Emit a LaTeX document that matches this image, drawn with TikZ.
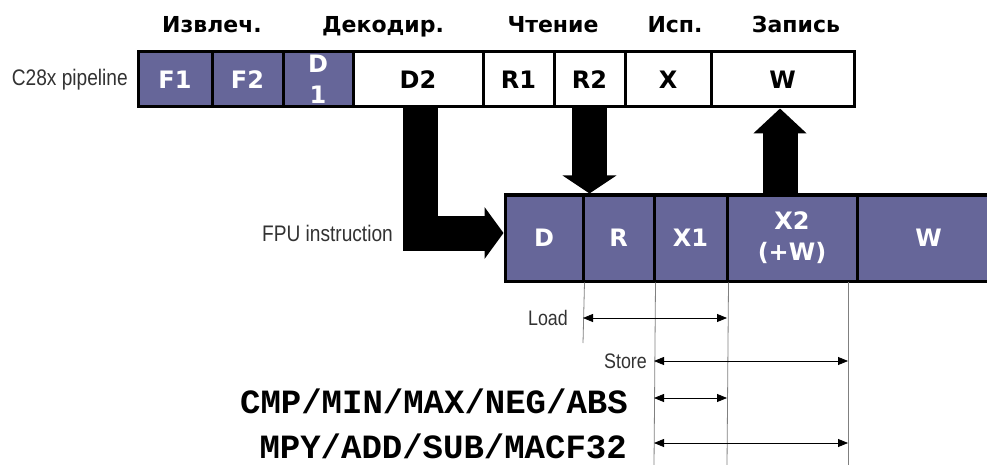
\documentclass[tikz,border=0pt]{standalone}
\usepackage{fontspec}
\setmainfont{DejaVu Sans}
\newfontfamily\narrowfont[FakeStretch=0.85]{Liberation Sans}
\newfontfamily\codefont{Liberation Mono}
\usetikzlibrary{arrows.meta,calc}
\pgfdeclarelayer{background}
\pgfsetlayers{background,main}
\definecolor{fpupurple}{RGB}{102,102,153}
\definecolor{labelgray}{RGB}{50,50,50}
\begin{document}
\begin{tikzpicture}[x=1pt,y=-1pt,
  stage/.style={draw=black, line width=3pt, inner sep=0pt, minimum height=55pt,
    font=\fontsize{24}{31}\selectfont\bfseries, align=center},
  pstage/.style={stage, fill=fpupurple, text=white},
  wstage/.style={stage, fill=white, text=black},
  fstage/.style={pstage, minimum height=86pt},
  phase/.style={font=\fontsize{22}{26}\selectfont\bfseries, anchor=base, inner sep=0pt},
  side/.style={font=\narrowfont\fontsize{21}{24}\selectfont, text=labelgray, anchor=east, inner sep=0pt},
  instr/.style={font=\codefont\fontsize{34}{36}\selectfont\bfseries, anchor=east, inner sep=0pt},
  bigarrow/.style={line width=35pt},
  guide/.style={gray, line width=0.8pt},
  span/.style={line width=0.8pt, {Triangle[length=10pt,width=8pt]}-{Triangle[length=10pt,width=8pt]}}
]
\useasboundingbox (0,0) rectangle (987,465);

% phase labels
\node[phase] (pFetch) at (212,33) {Извлеч.};
\node[phase] (pDec) at (383,33) {Декодир.};
\node[phase] (pRead) at (553,33) {Чтение};
\node[phase] (pExe) at (675,33) {Исп.};
\node[phase] (pWr) at (796,33) {Запись};

% C28x pipeline
\node[side, font=\narrowfont\fontsize{22.5}{24}\selectfont] (c28) at (128,80) {C28x pipeline};
\node[pstage, minimum width=74pt] (F1) at (175,79.5) {F1};
\node[pstage, minimum width=71pt] (F2) at (247.5,79.5) {F2};
\node[pstage, minimum width=70pt] (D1) at (318,79.5) {D\\1};
\node[wstage, minimum width=130pt] (D2) at (418,79.5) {D2};
\node[wstage, minimum width=71pt] (R1) at (518.5,79.5) {R1};
\node[wstage, minimum width=71pt] (R2) at (589.5,79.5) {R2};
\node[wstage, minimum width=86pt] (X) at (668,79.5) {X};
\node[wstage, minimum width=143pt] (W) at (782.5,79.5) {W};

% FPU pipeline
\node[side, font=\narrowfont\fontsize{22.5}{24}\selectfont] (fpu) at (393,233) {FPU instruction};
\node[fstage, minimum width=78pt] (FD) at (544,238) {D};
\node[fstage, minimum width=71pt] (FR) at (618.5,238) {R};
\node[fstage, minimum width=73pt] (FX1) at (690.5,238) {X1};
\node[fstage, minimum width=130pt] (FX2) at (792,238) {X2\\(+W)};
\node[fstage, minimum width=143pt] (FW) at (928.5,238) {W};

% block arrows
\begin{pgfonlayer}{background}
\draw[bigarrow, -{Triangle[width=51pt,length=19pt]}] ([xshift=2.5pt]D2.south) |- ([yshift=5pt]FD.west);
\draw[bigarrow, -{Triangle[width=53pt,length=18pt]}] (R2.south) -- (R2.south |- FD.north);
\draw[bigarrow, -{Triangle[width=52pt,length=25pt]}] ($(W.south |- FX2.north)+(-2.5,0)$) -- ($(W.south)+(-2.5,0)$);
\end{pgfonlayer}

% guide lines
\coordinate (gA) at (583,343);
\coordinate (gB) at (654,465);
\coordinate (gC) at (727,465);
\coordinate (gDt) at (848,282);
\coordinate (gD) at (848,465);
\draw[guide] (FD.south east) -- (gA);
\draw[guide] (FR.south east) -- (gB);
\draw[guide] (FX1.south east) -- (gC);
\draw[guide] (gDt) -- (gD);

% spans
\coordinate (lA) at (583,318);
\coordinate (lB) at (727,318);
\coordinate (sA) at (654,361);
\coordinate (sB) at (848,361);
\coordinate (cA) at (654,398);
\coordinate (cB) at (727,398);
\coordinate (mA) at (654,443);
\coordinate (mB) at (848,443);
\draw[span] (lA) -- (lB);
\draw[span] (sA) -- (sB);
\draw[span] (cA) -- (cB);
\draw[span] (mA) -- (mB);

\node[side] (load) at (568,318) {Load};
\node[side] (store) at (647,361) {Store};
\node[instr] (cmp) at (628,401) {CMP/MIN/MAX/NEG/ABS};
\node[instr] (mpy) at (627,446) {MPY/ADD/SUB/MACF32};
\end{tikzpicture}
\end{document}
